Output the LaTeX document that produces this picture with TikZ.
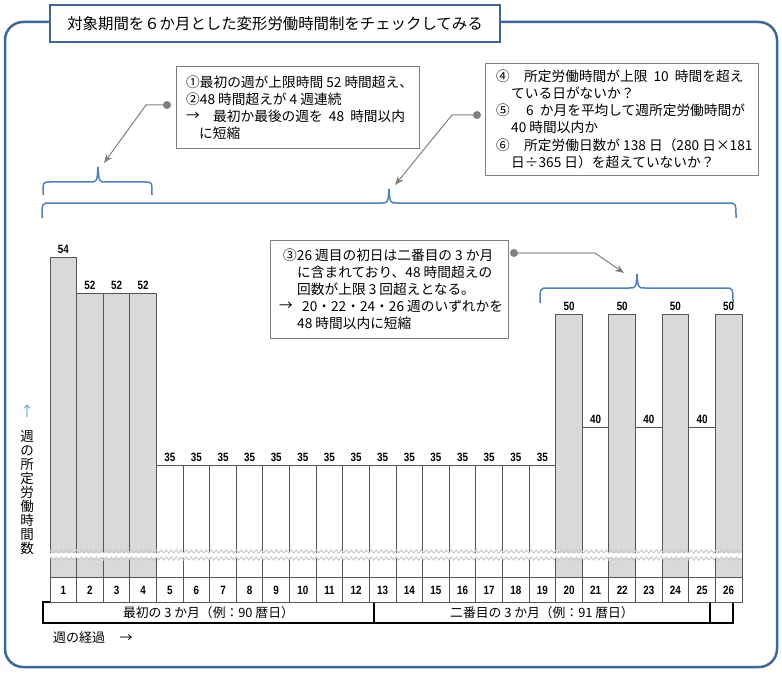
\documentclass[tikz,border=0pt]{standalone}
\usepackage{fontspec}
\setmainfont{Noto Sans CJK JP}
\newfontfamily\numfont[FakeStretch=0.82]{Liberation Sans}
\usetikzlibrary{arrows.meta,decorations.pathmorphing}
\definecolor{framec}{HTML}{3F6797}
\definecolor{bracec}{HTML}{4F81BD}
\definecolor{barfill}{HTML}{D9D9D9}
\definecolor{barline}{HTML}{555555}
\definecolor{connc}{HTML}{7F7F7F}
\definecolor{connlight}{HTML}{BFBFBF}
\definecolor{arrowc}{HTML}{4FA3D9}
\definecolor{zigc}{HTML}{C8C8C8}
\begin{document}
\begin{tikzpicture}[x=1pt,y=-1pt,
  titlebox/.style={draw=framec,line width=2.5pt,fill=white,minimum width=450pt,minimum height=37pt,inner sep=0pt,font=\fontsize{15.4}{16}\selectfont},
  bracestyle/.style={draw=bracec,line width=1.5pt},
  barstyle/.style={draw=barline,line width=1pt},
  vallab/.style={inner sep=0pt,font=\numfont\bfseries\fontsize{12}{12}\selectfont},
  wklab/.style={inner sep=0pt,font=\numfont\bfseries\fontsize{12}{12}\selectfont},
  monthbox/.style={draw=black,line width=1.2pt,fill=white,minimum height=21pt,inner sep=0pt,font=\fontsize{12.8}{13}\selectfont},
  calloutbox/.style={draw=connc,line width=1pt,fill=white,inner sep=0pt,anchor=north west},
  ctext/.style={anchor=west,inner sep=0pt,font=\fontsize{13.7}{14}\selectfont},
  dotstyle/.style={circle,fill=connc,minimum size=8pt,inner sep=0pt},
  conn/.style={draw=connc,line width=1pt,-{Stealth[length=9pt,width=7pt]}},
  connh/.style={draw=connlight,line width=1.8pt},
  zig/.style={draw=zigc,line width=0.9pt,decorate,decoration={zigzag,amplitude=1.6pt,segment length=5pt}}
]
\useasboundingbox (0,0) rectangle (782,674);
% outer frame
\draw[framec,line width=2.5pt,rounded corners=18pt] (5,22) rectangle (777,667);
\node[titlebox] (title) at (275,23.5) {対象期間を６か月とした変形労働時間制をチェックしてみる};

% braces
\draw[bracestyle] (43,195) .. controls (43,182) .. (50,182) -- (90,182) .. controls (97,182) .. (98,167)
  .. controls (99,182) .. (106,182) -- (145,182) .. controls (152,182) .. (152,195);
\draw[bracestyle] (42,218) .. controls (42,203) .. (50,203) -- (381,203) .. controls (388,203) .. (389,189)
  .. controls (390,203) .. (397,203) -- (728,203) .. controls (736,203) .. (736,218);
\draw[bracestyle] (540,303) .. controls (540,288) .. (548,288) -- (629,288) .. controls (636,288) .. (637,274)
  .. controls (638,288) .. (645,288) -- (725,288) .. controls (733,288) .. (733,303);
\coordinate (tip1) at (98,167);
\coordinate (tip2) at (389,189);
\coordinate (tip3) at (637,274);

% month boxes
\node[monthbox,minimum width=331pt] (m1) at (208.5,612.5) {最初の 3 か月（例：90 暦日）};
\node[monthbox,minimum width=336pt] (m2) at (542,612.5) {二番目の 3 か月（例：91 暦日）};
\node[monthbox,minimum width=23pt] (m3) at (721.5,612.5) {};

% bars
\foreach \v/\t/\f [count=\i] in {54/257/barfill,52/293/barfill,52/293/barfill,52/293/barfill,
  35/465/white,35/465/white,35/465/white,35/465/white,35/465/white,35/465/white,35/465/white,35/465/white,
  35/465/white,35/465/white,35/465/white,35/465/white,35/465/white,35/465/white,35/465/white,
  50/314/barfill,40/427/white,50/314/barfill,40/427/white,50/314/barfill,40/427/white,50/314/barfill}{
  \pgfmathsetmacro\xl{50+(\i-1)*26.6154}
  \pgfmathsetmacro\xr{\xl+26.6154}
  \pgfmathsetmacro\xm{\xl+13.3077}
  \draw[barstyle,fill=\f] (\xl,\t) rectangle (\xr,577);
  \node[vallab] (v\i) at (\xm,\t-8) {\v};
  \draw[barstyle,fill=white] (\xl,577) rectangle (\xr,602);
  \node[wklab] (w\i) at (\xm,590) {\i};
}
% axis break band
\fill[white] (50,552.5) rectangle (742,557.5);
\draw[zig] (50,551.5) -- (742,551.5);
\draw[zig] (50,558.5) -- (742,558.5);

% axis labels
\node[inner sep=0pt,text=arrowc,font=\fontsize{14}{14}\selectfont] (yarrow) at (27,411) {↑};
\node[inner sep=0pt,align=center,font=\fontsize{13.5}{13.9}\selectfont] (ylab) at (27,492.5) {週\\の\\所\\定\\労\\働\\時\\間\\数};
\node[anchor=west,inner sep=0pt,font=\fontsize{13}{14}\selectfont] (xlab) at (53,638) {週の経過\hspace{1.1em}→};

% callout 1
\node[calloutbox,minimum width=243pt,minimum height=82pt] (c1) at (176,66) {};
\node[ctext] (c1a) at (186,82) {①最初の週が上限時間 52 時間超え、};
\node[ctext] (c1b) at (186,99) {②48 時間超えが 4 週連続};
\node[ctext] (c1c) at (186,116) {→};
\node[ctext] (c1d) at (213,116) {最初か最後の週を\ \ 48\ \ 時間以内};
\node[ctext] (c1e) at (199,133) {に短縮};

% callout 2
\node[calloutbox,minimum width=273pt,minimum height=112pt] (c2) at (485,63) {};
\node[ctext] (c2a) at (496,76) {④};
\node[ctext] (c2b) at (524,76) {所定労働時間が上限\ \ 10\ \ 時間を超え};
\node[ctext] (c2c) at (511,93) {ている日がないか？};
\node[ctext] (c2d) at (496,110) {⑤};
\node[ctext] (c2e) at (526,110) {6\ \ か月を平均して週所定労働時間が};
\node[ctext] (c2f) at (511,127) {40 時間以内か};
\node[ctext] (c2g) at (496,145) {⑥};
\node[ctext] (c2h) at (524,145) {所定労働日数が 138 日（280 日×181};
\node[ctext] (c2i) at (511,162) {日÷365 日）を超えていないか？};

% callout 3
\node[calloutbox,minimum width=238pt,minimum height=98pt] (c3) at (270,240) {};
\node[ctext] (c3a) at (283,255) {③26 週目の初日は二番目の 3 か月};
\node[ctext] (c3b) at (297,272) {に含まれており、48 時間超えの};
\node[ctext] (c3c) at (297,289) {回数が上限 3 回超えとなる。};
\node[ctext] (c3d) at (279,306) {→};
\node[ctext] (c3e) at (302,306) {20・22・24・26 週のいずれかを};
\node[ctext] (c3f) at (297,323) {48 時間以内に短縮};

% connectors
\coordinate (d1) at (167,105);
\coordinate (k1) at (146,105);
\coordinate (a1) at (104,163);
\draw[conn] (d1) -- (k1) -- (a1);
\coordinate (d2) at (477,115);
\coordinate (k2) at (452,115);
\coordinate (a2) at (395,185);
\draw[conn] (d2) -- (k2) -- (a2);
\coordinate (d3) at (514,253);
\coordinate (k3) at (595,253);
\coordinate (a3) at (624,273);
\draw[connh] (d3) -- (k3);
\draw[conn] (k3) -- (a3);
\node[dotstyle] (dot1) at (d1) {};
\node[dotstyle] (dot2) at (d2) {};
\node[dotstyle] (dot3) at (d3) {};
\end{tikzpicture}
\end{document}
